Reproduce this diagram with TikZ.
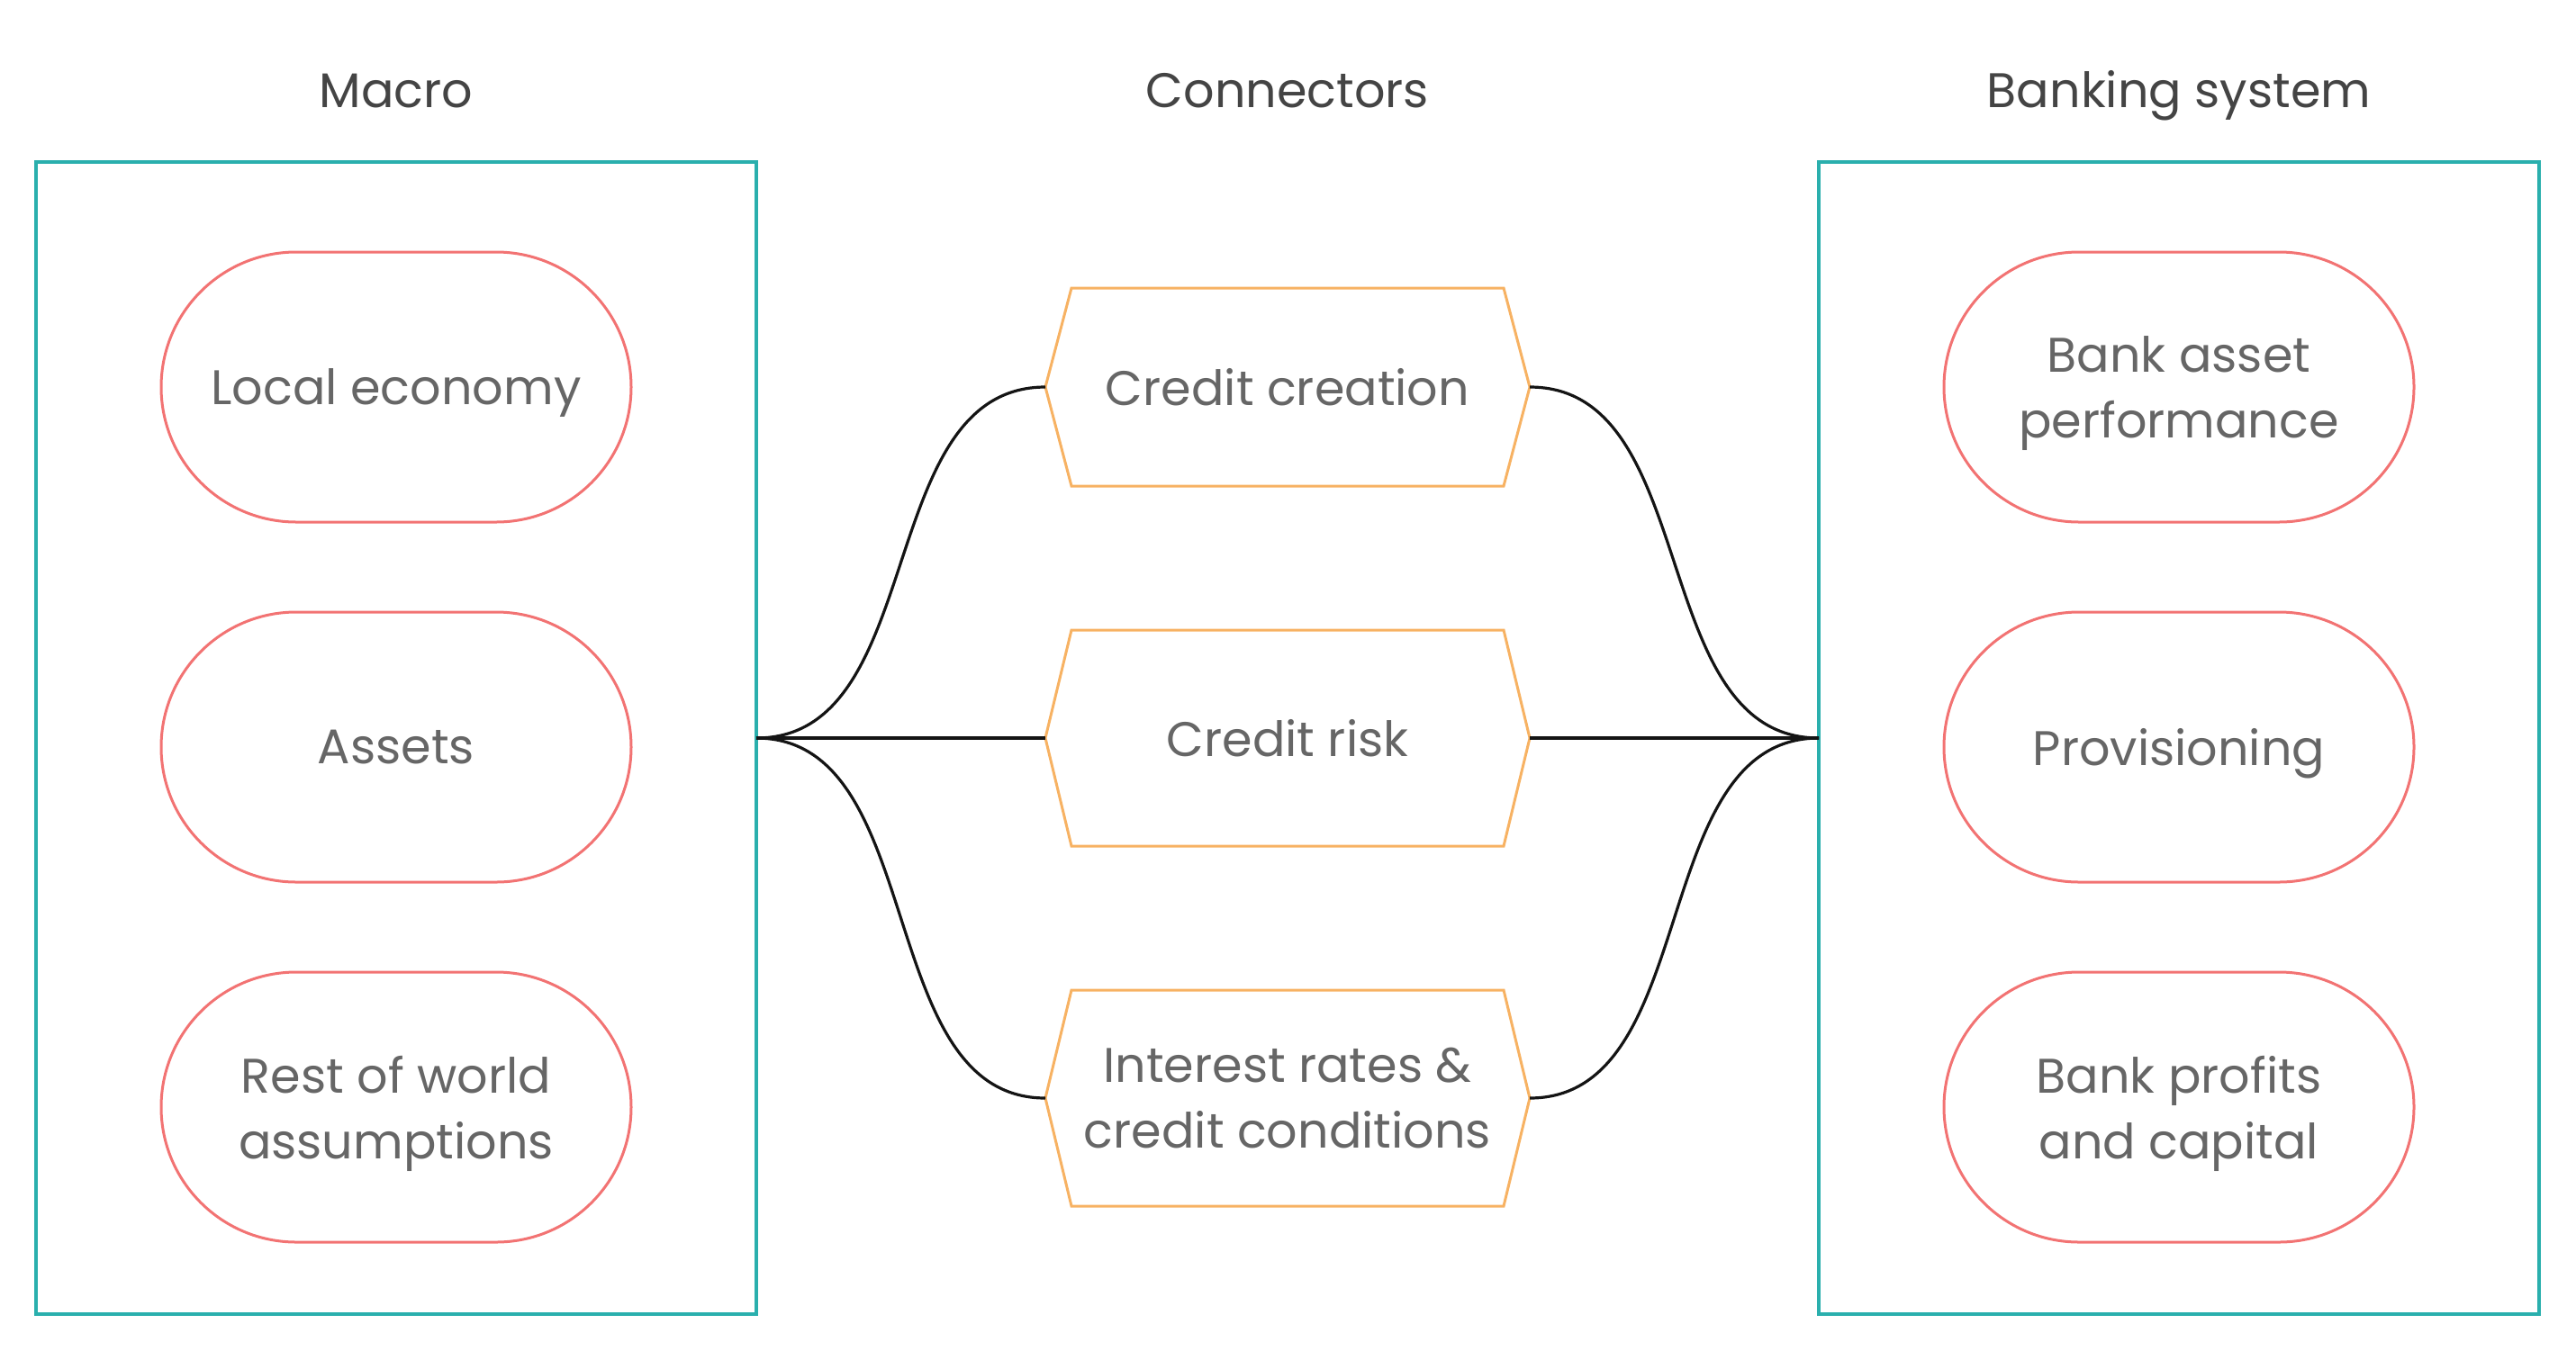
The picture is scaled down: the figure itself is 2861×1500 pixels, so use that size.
\documentclass[tikz,border=0pt]{standalone}
\usepackage{fontspec}
\setmainfont{Poppins}
\usetikzlibrary{calc}
\definecolor{panelc}{HTML}{2AAFAD}
\definecolor{pillc}{HTML}{F27373}
\definecolor{hexc}{HTML}{F7B263}
\definecolor{txtc}{HTML}{666666}
\definecolor{ttlc}{HTML}{444444}
\begin{document}
\begin{tikzpicture}[x=1pt,y=-1pt,
  panel/.style={draw=panelc, line width=3.2pt, minimum width=800pt, minimum height=1280pt, inner sep=0pt, outer sep=0pt},
  pill/.style={draw=pillc, line width=3pt, rounded corners=150pt, minimum width=522pt, minimum height=300pt, inner sep=0pt, align=center, text depth=0pt, text=txtc, font=\fontsize{54}{73}\selectfont},
  hexbox/.style={minimum width=480pt, inner sep=0pt, outer sep=0pt, align=center, text depth=0pt, text=txtc, font=\fontsize{54}{73}\selectfont},
  hexline/.style={draw=hexc, line width=3pt, line join=miter},
  ttl/.style={anchor=base, text=ttlc, font=\fontsize{54}{73}\selectfont},
  conn/.style={line width=3.2pt, draw=black!92}
]
\useasboundingbox (0,0) rectangle (2861,1500);

% titles
\node[ttl] (t1) at (440,119) {Macro};
\node[ttl] (t2) at (1430,119) {Connectors};
\node[ttl] (t3) at (2420,119) {Banking system};

% panels
\node[panel] (L) at (440,820) {};
\node[panel] (R) at (2420,820) {};

% macro pills
\node[pill] (m1) at (440,430) {Local economy};
\node[pill] (m2) at (440,830) {Assets};
\node[pill] (m3) at (440,1230) {Rest of world\\assumptions};

% banking pills
\node[pill] (b1) at (2420,430) {Bank asset\\performance};
\node[pill] (b2) at (2420,830) {Provisioning};
\node[pill] (b3) at (2420,1230) {Bank profits\\and capital};

% connector hexagons
\node[hexbox, minimum height=220pt] (c1) at (1430,430) {Credit creation};
\node[hexbox, minimum height=240pt] (c2) at (1430,820) {Credit risk};
\node[hexbox, minimum height=240pt] (c3) at (1430,1220) {Interest rates \&\\credit conditions};

\foreach \n in {c1,c2,c3}{
  \coordinate (\n w) at ($(\n.west)+(-29,0)$);
  \coordinate (\n e) at ($(\n.east)+(29,0)$);
  \draw[hexline] (\n.north west) -- (\n.north east) -- (\n e) -- (\n.south east) -- (\n.south west) -- (\n w) -- cycle;
}

% connectors
\draw[conn] (L.east) .. controls ($(L.east)+(192,0)$) and ($(c1w)+(-192,0)$) .. (c1w);
\draw[conn] (L.east) -- (c2w);
\draw[conn] (L.east) .. controls ($(L.east)+(192,0)$) and ($(c3w)+(-192,0)$) .. (c3w);
\draw[conn] (c1e) .. controls ($(c1e)+(192,0)$) and ($(R.west)+(-192,0)$) .. (R.west);
\draw[conn] (c2e) -- (R.west);
\draw[conn] (c3e) .. controls ($(c3e)+(192,0)$) and ($(R.west)+(-192,0)$) .. (R.west);
\end{tikzpicture}
\end{document}
